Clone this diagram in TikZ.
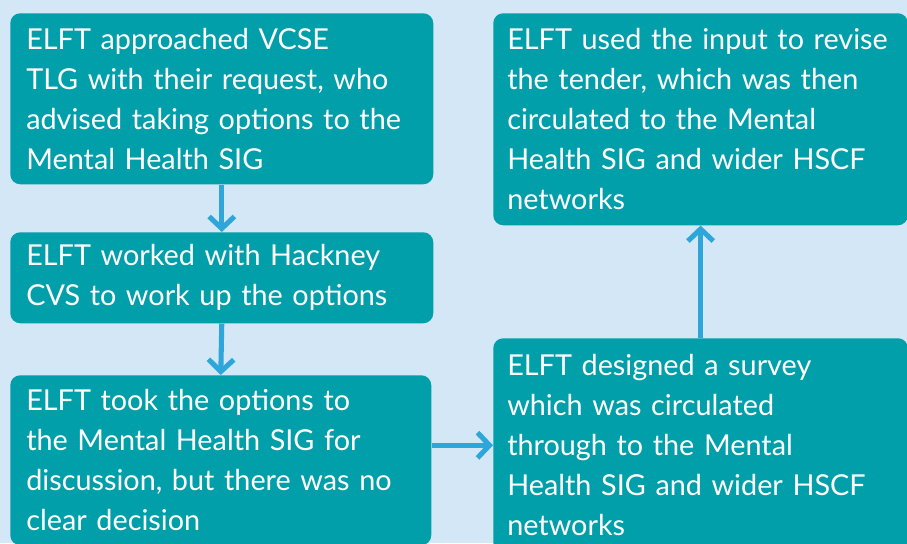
\documentclass[tikz,border=0pt]{standalone}
\usepackage{fontspec}
\setmainfont{Lato}
\usetikzlibrary{arrows.meta}

\definecolor{stepteal}{HTML}{009FAA}
\definecolor{pagebg}{HTML}{D4E7F6}
\definecolor{flowblue}{HTML}{2FA6DA}

\begin{document}
\begin{tikzpicture}[x=0.75pt,y=-0.75pt,
    stepbox/.style={fill=stepteal,rounded corners=7.5pt,anchor=north west,
      inner xsep=12pt,inner ysep=0pt,align=left,text=white,
      font=\fontsize{21.6}{30}\selectfont},
    flow/.style={draw=flowblue,line width=3.8pt,
      -{Straight Barb[length=9pt,width=19pt]}}]
    \useasboundingbox (0,0) rectangle (907,543);
    \fill [pagebg] (0,0) rectangle (907,543);

    % left column
    \node [stepbox,text width=293.25pt,minimum height=128.25pt] (approached) at (10,13)
      {ELFT approached VCSE\\TLG with their request, who\\advised taking options to the\\Mental Health SIG};
    \node [stepbox,text width=293.25pt,minimum height=68.25pt] (worked) at (10,232)
      {ELFT worked with Hackney\\CVS to work up the options};
    \node [stepbox,text width=291.75pt,minimum height=127.5pt] (took) at (10,375)
      {ELFT took the options to\\the Mental Health SIG for\\discussion, but there was no\\clear decision};

    % right column
    \node [stepbox,inner xsep=10.5pt,text width=290pt,minimum height=160.5pt] (survey) at (493,338)
      {ELFT designed a survey\\which was circulated\\through to the Mental\\Health SIG and wider HSCF\\networks};
    \node [stepbox,inner xsep=10.5pt,text width=290pt,minimum height=159pt] (revise) at (493,13)
      {ELFT used the input to revise\\the tender, which was then\\circulated to the Mental\\Health SIG and wider HSCF\\networks};

    \draw [flow] (approached.south) -- (worked.north);
    \draw [flow] (worked.south) -- (took.north);
    \draw [flow] (took.east |- survey.west) -- (survey.west);
    \draw [flow] (survey.north) -- (revise.south);
\end{tikzpicture}
\end{document}
